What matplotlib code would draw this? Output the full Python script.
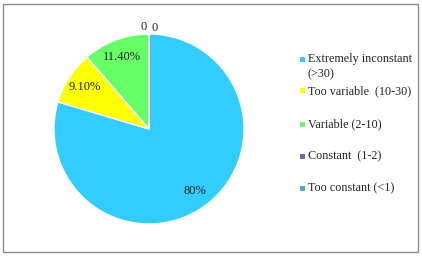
import matplotlib.pyplot as plt
from matplotlib.patches import Rectangle
import numpy as np

labels = ['Extremely inconstant\n(>30)', 'Too variable  (10-30)', 'Variable (2-10)',
          'Constant  (1-2)', 'Too constant (<1)']
values = [80, 9.1, 11.4, 0, 0]
value_text = ['80%', '9.10%', '11.40%', '0', '0']
colors = ['#33CCFF', '#FFFF00', '#66FF66', '#8064A2', '#4BACC6']

plt.rcParams['font.family'] = ['Liberation Serif', 'DejaVu Serif']
W, H = 422, 259
fig = plt.figure(figsize=(W / 100, H / 100), dpi=100)

# outer frame
fig.patches.append(Rectangle((3 / W, 7 / H), 415 / W, 248 / H, transform=fig.transFigure,
                             fill=False, edgecolor='#8c8c8c', linewidth=1))

# pie axes: center (149,129) px, radius 95 px, limits +-1.2
cx, cy, r = 149, H - 129, 95
side = 2.4 * r
ax = fig.add_axes([(cx - side / 2) / W, (cy - side / 2) / H, side / W, side / H])
wedges, _ = ax.pie(values, colors=colors, startangle=90, counterclock=False,
                   wedgeprops=dict(edgecolor='white', linewidth=1))
ax.set_xlim(-1.2, 1.2)
ax.set_ylim(-1.2, 1.2)
ax.set_aspect('auto')
ax.axis('off')

zero_shift = [-0.06, 0.06]
zi = 0
for w, v, t in zip(wedges, values, value_text):
    ang = np.deg2rad((w.theta1 + w.theta2) / 2)
    if v > 0:
        ax.text(0.81 * np.cos(ang), 0.81 * np.sin(ang), t, ha='center', va='center',
                fontsize=9, color='#222222')
    else:
        ax.text(1.07 * np.cos(ang) + zero_shift[zi], 1.07 * np.sin(ang) - 0.01 * zi, t,
                ha='center', va='center', fontsize=9, color='#222222')
        zi += 1

# legend
ys = [59, 91, 124, 156, 188]
for lab, col, y in zip(labels, colors, ys):
    fig.patches.append(Rectangle((300 / W, (H - y - 2.5) / H), 5 / W, 5 / H,
                                 transform=fig.transFigure, facecolor=col, edgecolor='none'))
    fig.text(308 / W, (H - y + 6) / H, lab, ha='left', va='top', fontsize=8.7,
             color='#222222', linespacing=1.35)

plt.savefig('out.png', dpi=100)
